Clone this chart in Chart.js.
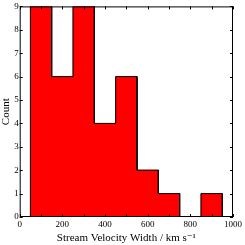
<!DOCTYPE html>
<html>
<head>
<meta charset="utf-8">
<script src="https://cdn.jsdelivr.net/npm/chart.js@4.4.1/dist/chart.umd.min.js"></script>
<style>
  html, body { margin: 0; padding: 0; background: #fff; }
  #wrap { width: 245px; height: 245px; }
</style>
</head>
<body>
<div id="wrap"><canvas id="histChart" width="245" height="245"></canvas></div>
<script>
// --- Histogram data (bin centres in km/s, counts) ---
const binCentres = [100, 200, 300, 400, 500, 600, 700, 800, 900];
const binCounts  = [9, 6, 9, 4, 6, 2, 1, 0, 1];
const binWidth = 100;
const xTickValues = [0, 200, 400, 600, 800, 1000];
const yTickValues = [0, 1, 2, 3, 4, 5, 6, 7, 8, 9];

const FONT = '"Liberation Serif", "DejaVu Serif", serif';

// step outline of the filled histogram (stepfilled style)
const outline = [{ x: binCentres[0] - binWidth / 2, y: 0 }];
binCentres.forEach((c, i) => {
    outline.push({ x: c - binWidth / 2, y: binCounts[i] });
    outline.push({ x: c + binWidth / 2, y: binCounts[i] });
});
outline.push({ x: binCentres[binCentres.length - 1] + binWidth / 2, y: 0 });

// draws the frame and small inward ticks like matplotlib
const frameTicks = {
    id: 'frameTicks',
    afterDraw(chart) {
        const { ctx, chartArea: a, scales } = chart;
        ctx.save();
        ctx.strokeStyle = '#000';
        ctx.lineWidth = 1;
        ctx.strokeRect(a.left + 0.5, a.top + 0.5, a.right - a.left - 1, a.bottom - a.top - 1);
        const len = 3;
        ctx.beginPath();
        for (let v = 0; v <= 1000; v += 100) {
            const px = Math.round(scales.x.getPixelForValue(v)) + 0.5;
            ctx.moveTo(px, a.bottom); ctx.lineTo(px, a.bottom - len);
            ctx.moveTo(px, a.top); ctx.lineTo(px, a.top + len);
        }
        yTickValues.forEach(v => {
            const py = Math.round(scales.y.getPixelForValue(v)) + 0.5;
            ctx.moveTo(a.left, py); ctx.lineTo(a.left + len, py);
            ctx.moveTo(a.right, py); ctx.lineTo(a.right - len, py);
        });
        ctx.stroke();
        ctx.restore();
    }
};

const ctx = document.getElementById('histChart').getContext('2d');
new Chart(ctx, {
    type: 'bar',
    data: {
        datasets: [{
            type: 'bar',
            data: binCentres.map((c, i) => ({ x: c, y: binCounts[i] })),
            backgroundColor: '#ff0000',
            borderWidth: 0,
            barPercentage: 1,
            categoryPercentage: 1,
            order: 2
        }, {
            type: 'line',
            data: outline,
            borderColor: '#000',
            borderWidth: 1,
            pointRadius: 0,
            fill: false,
            order: 1
        }]
    },
    options: {
        responsive: false,
        animation: false,
        layout: { padding: { top: 4, right: 12, left: 0, bottom: 0 } },
        plugins: { legend: { display: false }, tooltip: { enabled: false } },
        scales: {
            x: {
                type: 'linear',
                min: 0, max: 1000,
                offset: false,
                afterBuildTicks: s => { s.ticks = xTickValues.map(v => ({ value: v })); },
                grid: { display: false, drawTicks: false, offset: false },
                border: { display: false },
                ticks: { color: '#000', font: { family: FONT, size: 9 }, padding: 2, maxRotation: 0,
                         callback: v => String(v) },
                title: { display: true, text: 'Stream Velocity Width / km s\u207B\u00B9', color: '#000',
                         font: { family: FONT, size: 11 }, padding: { top: 0, bottom: 0 } }
            },
            y: {
                min: 0, max: 9,
                afterBuildTicks: s => { s.ticks = yTickValues.map(v => ({ value: v })); },
                grid: { display: false, drawTicks: false },
                border: { display: false },
                ticks: { color: '#000', font: { family: FONT, size: 9 }, padding: 1 },
                title: { display: true, text: 'Count', color: '#000',
                         font: { family: FONT, size: 11 }, padding: { top: 0, bottom: 0 } }
            }
        }
    },
    plugins: [frameTicks]
});
</script>
</body>
</html>
